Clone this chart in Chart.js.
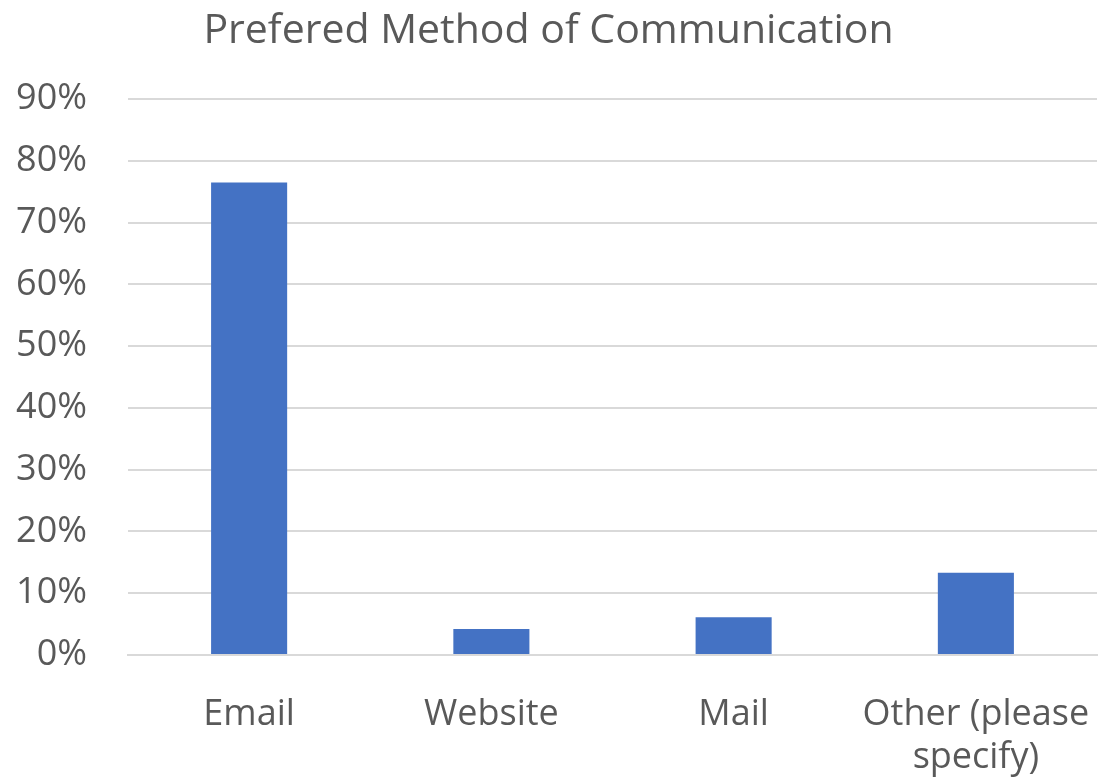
<!DOCTYPE html>
<html>
<head>
<meta charset="utf-8">
<script src="https://cdn.jsdelivr.net/npm/chart.js@4/dist/chart.umd.min.js"></script>
<style>
html,body{margin:0;padding:0;background:#fff;}
#wrap{width:1099px;height:784px;}
</style>
</head>
<body>
<div id="wrap"><canvas id="c" width="1099" height="784"></canvas></div>
<script>
const categories = ["Email", "Website", "Mail", ["Other (please", "specify)"]];
const values = [76.5, 4.2, 6.1, 13.3];
const yTicks = [0, 10, 20, 30, 40, 50, 60, 70, 80, 90];
const title = "Prefered Method of Communication";

Chart.defaults.font.family = "'Open Sans', sans-serif";
Chart.defaults.color = "#595959";

new Chart(document.getElementById('c'), {
  type: 'bar',
  data: {
    labels: categories,
    datasets: [{
      data: values,
      backgroundColor: '#4472C4',
      borderWidth: 0,
      categoryPercentage: 1,
      barPercentage: 0.314
    }]
  },
  options: {
    responsive: false,
    animation: false,
    layout: { padding: { left: 0, right: 2, top: 4, bottom: 0 } },
    plugins: {
      legend: { display: false },
      tooltip: { enabled: false },
      title: {
        display: true,
        text: title,
        color: '#595959',
        font: { size: 41, weight: 'normal' },
        padding: { top: 3, bottom: 43 }
      }
    },
    scales: {
      y: {
        min: 0, max: 90,
        afterBuildTicks: (s) => { s.ticks = yTicks.map(v => ({ value: v })); },
        afterFit: (s) => { s.width = 128; s.paddingTop = 0; s.paddingBottom = 0; },
        ticks: {
          callback: (v) => v + '%',
          font: { size: 36 },
          color: '#595959',
          padding: 41
        },
        grid: { color: '#d9d9d9', lineWidth: 2, drawTicks: false },
        border: { display: false }
      },
      x: {
        afterFit: (s) => { s.height = 129; s.paddingLeft = 0; s.paddingRight = 0; },
        ticks: {
          font: { size: 36 },
          color: '#595959',
          padding: 38,
          maxRotation: 0,
          autoSkip: false
        },
        grid: { display: false, drawTicks: false },
        border: { display: true, color: '#d9d9d9', width: 2 }
      }
    }
  }
});
</script>
</body>
</html>
